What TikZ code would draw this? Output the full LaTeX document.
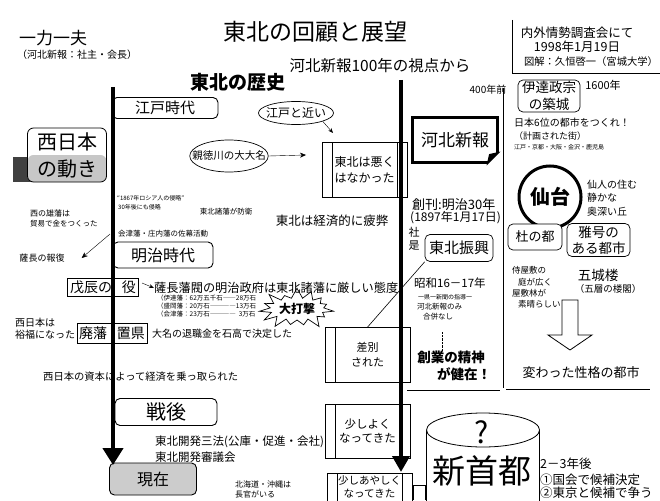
\documentclass[tikz,border=0pt]{standalone}
\usepackage{fontspec}
\setmainfont{Noto Sans CJK JP}
\usepackage{tikz}
\usetikzlibrary{arrows.meta,shapes.geometric,shapes.symbols}
\def\jsz#1#2{\fontsize{#1}{#2}\selectfont}
\tikzset{
	txt/.style={inner sep=0pt, font=\jsz{#1}{#1}},
	lbl/.style={inner sep=0pt, anchor=west, font=\jsz{#1}{#1}},
	eraBox/.style={draw, fill=white, rounded corners=5, line width=0.9},
	tagBox/.style={draw, fill=white, rounded corners=5, line width=0.7, inner sep=0pt},
	sqBox/.style={draw, line width=0.7},
	oval/.style={draw, ellipse, line width=0.7},
	procbox/.style={draw, line width=0.7, align=center, inner sep=0pt,
		path picture={\draw ([xshift=10]path picture bounding box.north west) -- ([xshift=10]path picture bounding box.south west);
			\draw ([xshift=-10]path picture bounding box.north east) -- ([xshift=-10]path picture bounding box.south east);}},
}

\begin{document}
\begin{tikzpicture}[x=1pt, y=-1pt]
		%%%%% START %%%%%
		\useasboundingbox (0,0) rectangle (660,500);
		\clip (0,0) rectangle (660,500);
		\fill[white] (0,0) rectangle (660,500);
		
		\node[txt=17] (ichiriki) at (53,38) {一力一夫};
		\node[txt=10] (role) at (77,55) {（河北新報：社主・会長）};
		\node[txt=23] (title) at (315,32) {東北の回顧と展望};
		\node[txt=15.5] (subtitle) at (380,66) {河北新報100年の視点から};
		\node[inner sep=0pt, font=\jsz{19}{19}\bfseries] (rekishi) at (238,82) {東北の歴史};
		
		\draw (512,20) -- (512,73) -- (660,73);
		\node[txt=12.5] (naigai) at (577,33) {内外情勢調査会にて};
		\node[txt=12.5] (kaisaibi) at (577,47) {1998年1月19日};
		\node[txt=10.3] (zukai) at (591,62) {図解：久恒啓一（宮城大学）};
		
		% left column
		\node[eraBox, minimum width=106, minimum height=21, txt=15] (edo) at (165,108) {江戸時代};
		\fill[black!75] (13,157) rectangle (31,182);
		\node[draw, fill=white, rounded corners=6, line width=0.8, minimum width=79, minimum height=54, align=center, inner sep=0pt, font=\jsz{20}{27},
			path picture={\fill[black!22] (path picture bounding box.west) rectangle (path picture bounding box.south east);}] (nishi) at (67,155) {西日本\\の動き};
		
		\node[oval, txt=12, inner xsep=-3.5, minimum height=23] (kinai) at (296,113) {江戸と近い};
		\coordinate (kinaiEnd) at (333,133);
		\draw[-{Stealth[length=5,width=4]}] (kinai.south east) -- (kinaiEnd);
		\node[oval, txt=10.5, inner xsep=-9, minimum height=32] (shintoku) at (229,156) {親徳川の大大名};
		\coordinate (shintokuEnd) at (306,155);
		\draw[-{Stealth[length=6,width=5]}] (shintoku.east) -- (shintokuEnd);
		
		\node[procbox, minimum width=85, minimum height=55, font=\jsz{12}{16}] (warukunai) at (364.5,170) {東北は悪く\\はなかった};
		\node[txt=12.5] (hihei) at (332,221) {東北は経済的に疲弊};
		
		\node[lbl=6] (russia) at (117,198) {“1867年ロシア人の侵略”};
		\node[lbl=6] (russia2) at (118,207) {30年後にも侵略};
		\node[txt=7.5] (boei) at (226,212) {東北諸藩が防衛};
		\node[lbl=8] (yuhan) at (30,213) {西の雄藩は};
		\node[lbl=7.5] (boeki) at (30,224) {貿易で金をつくった};
		\node[lbl=7.5] (sabaku) at (118,234) {会津藩・庄内藩の佐幕活動};
		\node[txt=9] (hofuku) at (42,258) {薩長の報復};
		\coordinate (hofukuStart) at (110,234);
		\draw[-{Stealth[length=6,width=5]}] (hofukuStart) -- ([xshift=17]hofuku.east);
		
		\node[eraBox, minimum width=100, minimum height=26, txt=16] (meiji) at (163,255) {明治時代};
		\node[sqBox, minimum width=71, minimum height=18, txt=14] (boshin) at (103,287) {戊辰の\hspace{10pt}役};
		\node[lbl=12.2] (hanbatsu) at (154,288) {薩長藩閥の明治政府は東北諸藩に厳しい態度};
		\coordinate (hanbatsuArr) at (142,283);
		\draw[-{Stealth[length=5,width=4]}] (hanbatsuArr) -- (hanbatsu.west);
		\node[lbl=6.5] (datehan) at (157,298) {（伊達藩：62万五千石――28万石};
		\node[lbl=6.5] (moriokahan) at (157,306) {（盛岡藩：20万石――――13万石};
		\node[lbl=6.5] (aizuhan) at (157,314) {（会津藩：23万石――――\ \ 3万石};
		\node[starburst, draw, line width=0.7, starburst points=15, starburst point height=11pt, random starburst=40,
			minimum width=74pt, minimum height=44pt, inner sep=1pt, font=\jsz{12}{12}\bfseries] (dageki) at (297,309) {大打撃};
		
		\node[lbl=10] (yufuku1) at (15,323) {西日本は};
		\node[lbl=10] (yufuku2) at (15,335) {裕福になった};
		\node[sqBox, minimum width=70, minimum height=20, txt=14] (haihan) at (112,333) {廃藩\hspace{10pt}置県};
		\node[lbl=10] (taishoku) at (152,334) {大名の退職金を石高で決定した};
		\node[lbl=10.3] (shihon) at (43,377) {西日本の資本によって経済を乗っ取られた};
		
		\node[eraBox, minimum width=102, minimum height=27, txt=20] (sengo) at (166,412) {戦後};
		\node[lbl=11.5] (kaihatsu1) at (155,442) {東北開発三法(公庫・促進・会社)};
		\node[lbl=11.5] (kaihatsu2) at (155,457) {東北開発審議会};
		\node[eraBox, fill=black!20, minimum width=87, minimum height=32, txt=16] (genzai) at (153,479) {現在};
		\node[lbl=8] (hokkaido1) at (235,484) {北海道・沖縄は};
		\node[lbl=8] (hokkaido2) at (235,494) {長官がいる};
		
		% middle column
		\node[procbox, minimum width=85, minimum height=55, font=\jsz{11}{15}] (sabetsu) at (367.5,355) {差別\\された};
		\node[procbox, minimum width=85, minimum height=54, font=\jsz{11.5}{14}] (yoku) at (367.5,431) {少しよく\\なってきた};
		\node[procbox, minimum width=85, minimum height=54] (ayashiku) at (369.5,500) {};
		\node[align=center, inner sep=0pt, font=\jsz{10.5}{12.5}] (ayashikuTxt) at (369.5,487) {少しあやしく\\なってきた};
		
		\node[draw, line width=2.2, minimum width=85, minimum height=45, txt=17] (kahoku) at (455,140) {河北新報};
		\fill[white] ([xshift=-11,yshift=-2]kahoku.south east) rectangle ([xshift=2,yshift=11]kahoku.south east);
		\draw[line width=1.2, fill=black] ([xshift=-11]kahoku.south east) -- ([yshift=11]kahoku.south east) -- ([xshift=-9,yshift=9]kahoku.south east) -- cycle;
		
		\node[lbl=13] (soukan) at (412,205) {創刊:明治30年};
		\node[lbl=12] (soukanbi) at (410,218) {(1897年1月17日)};
		\node[txt=11] (sha) at (414,232) {社};
		\node[txt=11] (ze) at (414,246) {是};
		\node[tagBox, minimum width=68, minimum height=27, txt=15] (shinko) at (459,248) {東北振興};
		\draw[line width=0.6] (shinko.south west) -- (sabetsu.north);
		
		\node[lbl=11.5] (showa) at (414,283) {昭和16－17年};
		\node[lbl=6] (ikken) at (418,297) {一県一新聞の指導一};
		\node[lbl=7.5] (gappei1) at (417,307) {河北新報のみ};
		\node[lbl=7.5] (gappei2) at (423,317) {合併なし};
		\node[inner sep=0pt, font=\jsz{13.5}{13.5}\bfseries] (sogyo) at (451,357) {創業の精神};
		\node[inner sep=0pt, font=\jsz{13.5}{13.5}\bfseries] (kenzai) at (464,374) {が健在！};
		\coordinate (tenA) at (442,332);
		\draw[densely dotted] (tenA) -- (tenA |- sogyo.north);
		
		% new capital
		\draw[line width=0.8] (426.5,430) -- (426.5,510);
		\draw[line width=0.8] (539.5,430) -- (539.5,510);
		\draw[line width=0.8, fill=white] (483,430) ellipse [x radius=56.5, y radius=17];
		\node[txt=30] (hatena) at (482,432) {?};
		\node[txt=33] (shinshuto) at (482,471) {新首都};
		\draw (413,500) -- (413,485) -- (425,485) -- (425,500);
		\node[lbl=12.5] (nengo) at (540,464) {2－3年後};
		\node[lbl=12.5] (koho1) at (540,480) {①国会で候補決定};
		\node[lbl=12.5] (koho2) at (540,493) {②東京と候補で争う};
		
		% right column
		\draw (503,88) -- (503,388);
		\draw (407,390) -- (500,390);
		\draw (506,389) -- (650,389);
		\node[txt=10] (yonhyaku) at (488,90) {400年前};
		\node[tagBox, minimum width=62, minimum height=32, align=center, font=\jsz{13.5}{17}] (masamune) at (549,96) {伊達政宗\\の築城};
		\node[txt=11] (sen6) at (603,85) {1600年};
		\node[lbl=10] (rokui) at (514,123) {日本6位の都市をつくれ！};
		\node[lbl=9] (keikaku) at (514,136) {（計画された街）};
		\node[lbl=6] (toshimei) at (514,147) {江戸・京都・大阪・金沢・鹿児島};
		
		\node[circle, draw, line width=3, minimum size=62, inner sep=0pt, font=\jsz{20}{20}\bfseries] (sendai) at (550,197) {仙台};
		\node[lbl=10] (senin1) at (587,185) {仙人の住む};
		\node[lbl=10] (senin2) at (587,198) {静かな};
		\node[lbl=10] (senin3) at (587,212) {奥深い丘};
		\node[tagBox, minimum width=54, minimum height=26, txt=13] (mori) at (535,237) {杜の都};
		\node[tagBox, minimum width=63, minimum height=33, align=center, font=\jsz{13.5}{16}] (gago) at (598.5,240) {雅号の\\ある都市};
		
		\node[lbl=8.5] (samurai1) at (512,270) {侍屋敷の};
		\node[lbl=8.5] (samurai2) at (518,282) {庭が広く};
		\node[lbl=8.5] (samurai3) at (512,293) {屋敷林が};
		\node[lbl=8.5] (samurai4) at (518,304) {素晴らしい};
		\node[txt=13.5] (gojo) at (598,275) {五城楼};
		\node[txt=9.5] (goso) at (608,289) {（五層の楼閣）};
		\draw[line width=0.8] (562,300) -- (578,300) -- (578,335) -- (592,335) -- (570,350) -- (548,335) -- (562,335) -- cycle;
		\node[txt=13] (kawatta) at (581,373) {変わった性格の都市};
		
		% time lines
		\coordinate (leftTop) at (113,87);
		\coordinate (leftEnd) at (113,465);
		\coordinate (midTop) at (401,80);
		\coordinate (midEnd) at (401,472);
		\draw[line width=4.5, -{Triangle[width=20pt,length=17pt]}] (leftTop) -- (leftEnd);
		\draw[line width=4.5, -{Triangle[width=17pt,length=16pt]}] (midTop) -- (midEnd);
		%%%%% END %%%%%
\end{tikzpicture}
\end{document}
